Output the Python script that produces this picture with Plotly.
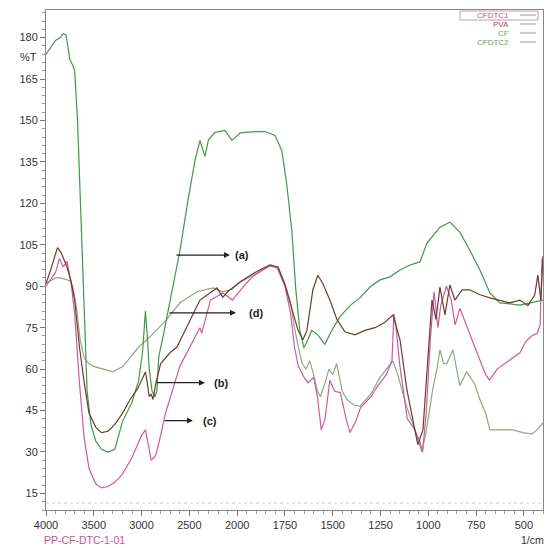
import numpy as np
import plotly.graph_objects as go

# ---------------- data (wavenumber in 1/cm, %T) ----------------
a_wn = [4000, 3950, 3900, 3850, 3820, 3790, 3770, 3750, 3720, 3700, 3670, 3650, 3620, 3600, 3570, 3530,
        3480, 3420, 3350, 3280, 3200, 3100, 3030, 2990, 2960, 2940, 2920, 2890, 2860, 2840, 2820, 2776,
        2703, 2598, 2515, 2441, 2389, 2337, 2300, 2232, 2128, 2054, 1984, 1907, 1854, 1802, 1766, 1740,
        1714, 1693, 1672, 1651, 1630, 1610, 1578, 1541, 1505, 1462, 1410, 1358, 1305, 1253, 1201, 1148,
        1096, 1044, 1007, 939, 887, 835, 783, 730, 678, 626, 521, 400]
a_t = [174, 176.5, 179, 180, 181.5, 181, 177, 172, 170, 168, 150, 130, 100, 75, 52, 40,
       34, 31, 30, 31, 41, 48, 56, 66, 81, 72, 60, 52, 50, 52, 64.5, 71.7,
       84, 103, 121, 135.6, 142.8, 137, 143, 145.7, 146.4, 142.8, 145.5, 146, 146, 144.6, 139, 126.6,
       110, 88.7, 74, 67.7, 70.6, 74, 72.4, 69, 74, 79, 83, 85.8, 89.7, 92.3, 93.4, 95.9,
       97.7, 98.8, 105.6, 111.4, 113.2, 109.6, 103, 95.9, 87.6, 84, 83.2, 85]

b_wn = [4000, 3950, 3880, 3840, 3780, 3740, 3700, 3650, 3600, 3550, 3480, 3420, 3350, 3280, 3200, 3120,
        3040, 2960, 2940, 2920, 2900, 2880, 2850, 2800, 2700, 2630, 2389, 2211, 2150, 2100, 1984, 1907,
        1828, 1786, 1750, 1714, 1682, 1656, 1635, 1604, 1578, 1552, 1515, 1478, 1436, 1384, 1332, 1279,
        1227, 1185, 1148, 1112, 1081, 1055, 1028, 1002, 981, 960, 939, 913, 887, 861, 824, 783,
        730, 678, 626, 574, 521, 479, 443, 427, 411, 400]
b_t = [91, 96, 104, 102, 97, 92, 85, 68, 55, 44, 39, 37, 37.5, 40, 44, 49,
       53, 59, 55, 50, 51, 49, 55, 62, 66, 68, 85, 89.4, 86, 88, 91.6, 95,
       97.7, 97, 90.5, 81.4, 74.2, 70.6, 74, 88.7, 94, 91, 85, 78, 73.5, 72.4, 74, 75,
       77, 79.6, 70.6, 52.6, 41.7, 32.7, 38, 63.4, 85, 78, 89.7, 79.6, 90.5, 85, 88.7, 88.7,
       86.9, 85.8, 85, 84, 85, 83, 86.9, 94, 85, 101]

c_wn = [4000, 3900, 3860, 3820, 3780, 3740, 3700, 3650, 3600, 3550, 3480, 3420, 3350, 3280, 3200, 3100,
        3000, 2960, 2920, 2900, 2870, 2850, 2800, 2750, 2600, 2390, 2370, 2280, 2150, 2050, 1970, 1920,
        1830, 1790, 1750, 1720, 1700, 1680, 1650, 1630, 1600, 1580, 1560, 1540, 1515, 1490, 1460, 1430,
        1410, 1380, 1355, 1300, 1268, 1220, 1190, 1180, 1170, 1150, 1110, 1070, 1045, 1030, 1010, 990,
        970, 950, 935, 905, 880, 860, 835, 800, 780, 740, 700, 680, 640, 600, 560, 520, 490, 460,
        430, 415, 405, 400]
c_t = [90, 95, 100, 97, 99, 92, 80, 55, 35, 24, 18.5, 17, 17.5, 19, 22, 28,
       36, 38, 31, 27, 28, 29, 36, 44, 61, 75, 73, 85, 87.6, 85, 89.7, 93.4,
       97.5, 96.5, 90, 80, 68, 61, 57, 55, 57, 50, 38, 42, 56, 52, 51.5, 42,
       37, 41, 46, 50, 53.6, 58, 63, 80, 76, 62, 42, 38, 34, 30, 45, 70,
       88, 75, 83, 90, 85, 76, 82, 76, 72, 65, 58, 56, 60, 62, 64, 66, 70, 72,
       73, 76, 100, 96]

d_wn = [4000, 3950, 3900, 3850, 3800, 3750, 3720, 3680, 3640, 3600, 3550, 3500, 3400, 3300, 3194, 3100,
        3030, 2912, 2808, 2740, 2598, 2420, 2340, 2250, 2150, 2050, 1984, 1907, 1828, 1786, 1750, 1720,
        1700, 1680, 1660, 1640, 1620, 1600, 1580, 1565, 1540, 1520, 1500, 1480, 1450, 1425, 1390, 1358,
        1300, 1253, 1220, 1185, 1160, 1130, 1112, 1080, 1060, 1033, 1010, 976, 955, 939, 920, 903,
        871, 850, 835, 800, 760, 730, 700, 678, 620, 558, 505, 460, 430, 400]
d_t = [91, 92, 93, 93, 92.5, 92, 90, 82, 70, 64, 62, 61, 60, 59, 61, 65,
       68, 71.7, 75.3, 77.8, 84, 88, 88.7, 89.4, 88, 89, 91.5, 94.5,
       97.3, 96.8, 91, 84, 75, 68, 62, 60, 63, 58, 52, 50, 55, 60, 58, 62, 52, 49, 47, 46.5,
       51, 57, 60, 63, 58, 50, 46, 40, 36, 30, 38, 53, 60, 67, 62, 62,
       67, 60, 54, 59, 55, 49, 44, 38, 38, 38, 37, 36.5, 38, 40.6]

x_tick_labels = ["4000", "3500", "3000", "2500", "2000", "1750", "1500", "1250", "1000", "750", "500"]
x_tick_wn = [4000, 3500, 3000, 2500, 2000, 1750, 1500, 1250, 1000, 750, 500]
y_tick_vals = [15, 30, 45, 60, 75, 90, 105, 120, 135, 150, 165, 180]

legend_names = ["CFDTC1", "PVA", "CF", "CFDTC2"]


def to_u(w):
    # Shimadzu style split scale: 4000-2000 compressed (500/div), 2000-400 expanded (250/div)
    w = np.asarray(w, dtype=float)
    return np.where(w >= 2000, (4000 - w) / 500.0, 4 + (2000 - w) / 250.0)


col_a = "#3f9a45"
col_b = "#6e3a33"
col_c = "#d25a9a"
col_d = "#8fa882"

fig = go.Figure()
for wn, t, col in [(d_wn, d_t, col_d), (a_wn, a_t, col_a), (c_wn, c_t, col_c), (b_wn, b_t, col_b)]:
    fig.add_trace(go.Scatter(x=to_u(wn), y=t, mode="lines",
                             line=dict(color=col, width=1.2), showlegend=False, hoverinfo="skip"))

tick_font = dict(family="Liberation Sans, Arial", size=11, color="#333333")

fig.update_xaxes(range=[0, 10.4], tickmode="array", tickvals=list(to_u(x_tick_wn)), ticktext=x_tick_labels,
                 ticks="outside", ticklen=5, tickcolor="#777", showgrid=False, zeroline=False,
                 showline=True, linecolor="#888", linewidth=1, mirror=True, tickfont=tick_font,
                 minor=dict(tickmode="linear", tick0=0, dtick=0.2, ticks="outside", ticklen=3, tickcolor="#999"))
fig.update_yaxes(range=[9, 190], tickmode="array", tickvals=y_tick_vals,
                 ticks="outside", ticklen=5, tickcolor="#777", showgrid=False, zeroline=False,
                 showline=True, linecolor="#888", linewidth=1, mirror=True, tickfont=tick_font,
                 minor=dict(tickmode="linear", tick0=0, dtick=3, ticks="outside", ticklen=3, tickcolor="#999"))

# faint dotted baseline near bottom
fig.add_shape(type="line", xref="paper", yref="y", x0=0, x1=1, y0=11.5, y1=11.5,
              line=dict(color="#cccccc", width=1, dash="dot"))

# plot-area geometry (pixels) used to place decorations
PL, PR, PT, PB = 46, 543, 10, 510


def px2x(px):
    return (px - PL) / (PR - PL)


def py2y(py):
    return 1 - (py - PT) / (PB - PT)


ann = []
# arrows with labels
for tail_px, head_px, py, txt_px, label in [(175, 230, 255, 242, "(a)"), (168, 236, 313, 256, "(d)"),
                                             (155, 205, 383, 221, "(b)"), (163, 193, 421, 210, "(c)")]:
    yv = 180 - (py - 37) / 2.77
    ut = (tail_px - 46) / 47.8
    uh = (head_px - 46) / 47.8
    ux = (txt_px - 46) / 47.8
    ann.append(dict(x=uh, y=yv, ax=ut, ay=yv, xref="x", yref="y", axref="x", ayref="y",
                    showarrow=True, arrowhead=2, arrowsize=1, arrowwidth=1.2, arrowcolor="#222", text=""))
    ann.append(dict(x=ux, y=yv, xref="x", yref="y", text="<b>" + label + "</b>", showarrow=False,
                    font=dict(family="Liberation Sans, Arial", size=11, color="#222")))

# %T label
ann.append(dict(x=px2x(39), y=173, xref="paper", yref="y", text="%T", showarrow=False, xanchor="right",
                font=tick_font))
# footer texts
ann.append(dict(x=px2x(42), y=py2y(540), xref="paper", yref="paper", text="PP-CF-DTC-1-01",
                showarrow=False, xanchor="left", yanchor="middle",
                font=dict(family="Liberation Sans, Arial", size=10.5, color="#d0508f")))
ann.append(dict(x=px2x(546), y=py2y(540), xref="paper", yref="paper", text="1/cm",
                showarrow=False, xanchor="right", yanchor="middle",
                font=dict(family="Liberation Sans, Arial", size=10.5, color="#333333")))

# legend (manual, Shimadzu style)
leg_cols = ["#d0508f", "#a04a4a", "#5aaa5a", "#5aaa5a"]
leg_y = [15, 24, 33, 42]
for name, c, py in zip(legend_names, leg_cols, leg_y):
    ann.append(dict(x=px2x(511), y=py2y(py), xref="paper", yref="paper", text=name, showarrow=False,
                    xanchor="right", yanchor="middle",
                    font=dict(family="Liberation Sans, Arial", size=8, color=c)))
    fig.add_shape(type="line", xref="paper", yref="paper", x0=px2x(520), x1=px2x(536),
                  y0=py2y(py), y1=py2y(py), line=dict(color="#999", width=1))
fig.add_shape(type="rect", xref="paper", yref="paper", x0=px2x(460), x1=px2x(538),
              y0=py2y(20), y1=py2y(11), line=dict(color="#c99ab0", width=1))

fig.update_layout(width=547, height=548, margin=dict(l=PL, r=547 - PR, t=PT, b=548 - PB),
                  paper_bgcolor="white", plot_bgcolor="white", annotations=ann,
                  font=dict(family="Liberation Sans, Arial"))

fig.write_html("out.html")
